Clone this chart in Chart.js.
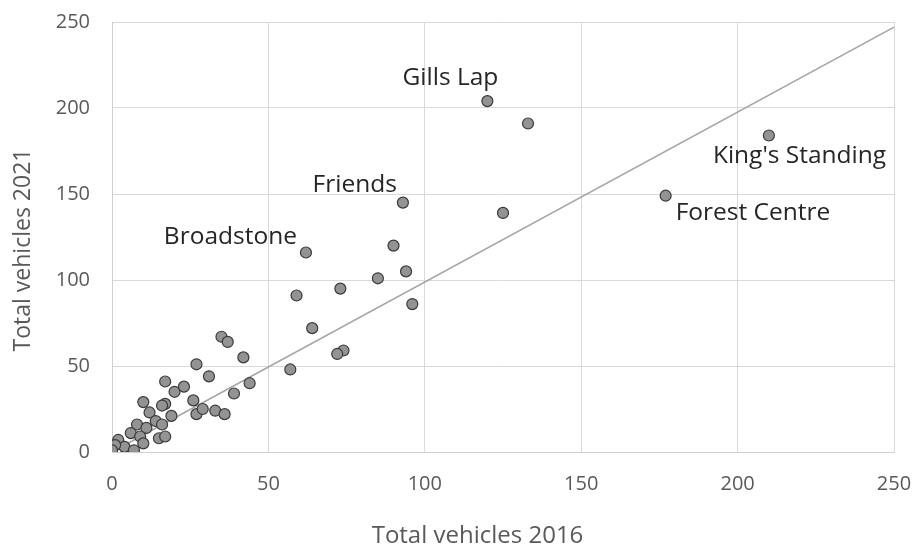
<!DOCTYPE html>
<html>
<head>
<meta charset="utf-8">
<script src="https://cdn.jsdelivr.net/npm/chart.js@4/dist/chart.umd.min.js"></script>
<style>
  html, body { margin: 0; padding: 0; background: #ffffff; }
  #wrap { width: 915px; height: 547px; position: relative; }
</style>
</head>
<body>
<div id="wrap"><canvas id="c" width="915" height="547"></canvas></div>
<script>
// ---- Data ----
const siteNames = ['Gills Lap', 'Friends', 'Broadstone', "King's Standing", 'Forest Centre'];
const vehicles2016 = [120, 93, 62, 210, 177, 133, 125, 90, 94, 85, 96, 73, 59, 64, 74, 72, 57, 35, 37, 42, 44, 31, 27, 39, 17, 20, 23, 10, 17, 16, 26, 27, 12, 19, 29, 33, 36, 14, 16, 8, 11, 6, 9, 15, 17, 2, 10, 4, 7, 0, 0, 1, 0];
const vehicles2021 = [204, 145, 116, 184, 149, 191, 139, 120, 105, 101, 86, 95, 91, 72, 59, 57, 48, 67, 64, 55, 40, 44, 51, 34, 41, 35, 38, 29, 28, 27, 30, 22, 23, 21, 25, 24, 22, 18, 16, 16, 14, 11, 9, 8, 9, 7, 5, 3, 1, 2, 0, 4, 1];
const refLineX = [0, 250];
const refLineY = [0, 247];
const axisTicks = [0, 50, 100, 150, 200, 250];
const xTitle = 'Total vehicles 2016';
const yTitle = 'Total vehicles 2021';

const points = vehicles2016.map((x, i) => ({ x: x, y: vehicles2021[i] }));
const refLine = refLineX.map((x, i) => ({ x: x, y: refLineY[i] }));

const FONT = '"Open Sans", "DejaVu Sans", sans-serif';

const labelOffsets = {
  'Gills Lap':       { dx: 11,  dy: -23, align: 'right' },
  'Friends':         { dx: -6,  dy: -18, align: 'right' },
  'Broadstone':      { dx: -9,  dy: -15, align: 'right' },
  "King's Standing": { dx: -56, dy: 20,  align: 'left' },
  'Forest Centre':   { dx: 10,  dy: 17,  align: 'left' }
};

const pointLabels = {
  id: 'pointLabels',
  afterDatasetsDraw(chart) {
    const meta = chart.getDatasetMeta(0);
    const ctx = chart.ctx;
    ctx.save();
    ctx.font = '24.5px ' + FONT;
    ctx.fillStyle = '#262626';
    ctx.textBaseline = 'middle';
    siteNames.forEach((name, i) => {
      const el = meta.data[i];
      const o = labelOffsets[name];
      ctx.textAlign = o.align;
      ctx.fillText(name, el.x + o.dx, el.y + o.dy);
    });
    ctx.restore();
  }
};

// Axis titles placed as in the reference (slightly off the plot-area centre)
const axisTitles = {
  id: 'axisTitles',
  afterDraw(chart) {
    const ctx = chart.ctx;
    const xs = chart.scales.x, ys = chart.scales.y;
    ctx.save();
    ctx.fillStyle = '#595959';
    ctx.textAlign = 'center';
    ctx.textBaseline = 'middle';
    ctx.font = '24px ' + FONT;
    ctx.fillText(xTitle, chart.width / 2 + 20, xs.bottom - 11);
    ctx.translate(ys.left + 23, (chart.chartArea.top + chart.chartArea.bottom) / 2 + 13);
    ctx.rotate(-Math.PI / 2);
    ctx.font = '23px ' + FONT;
    ctx.fillText(yTitle, 0, 0);
    ctx.restore();
  }
};

new Chart(document.getElementById('c'), {
  type: 'scatter',
  data: {
    datasets: [
      {
        label: 'Sites',
        data: points,
        pointRadius: 5.5,
        pointHoverRadius: 5.5,
        backgroundColor: '#939393',
        borderColor: '#3a3a3a',
        borderWidth: 1.2,
        order: 0
      },
      {
        type: 'line',
        label: 'Reference',
        data: refLine,
        borderColor: '#a6a6a6',
        borderWidth: 1.6,
        pointRadius: 0,
        fill: false,
        order: 1
      }
    ]
  },
  options: {
    responsive: false,
    animation: false,
    events: [],
    layout: { padding: { top: 22, right: 21, left: 0, bottom: 0 } },
    plugins: {
      legend: { display: false },
      tooltip: { enabled: false }
    },
    scales: {
      x: {
        type: 'linear',
        min: 0, max: 250,
        afterBuildTicks: (s) => { s.ticks = axisTicks.map(v => ({ value: v })); },
        afterFit: (s) => { s.height = 95; s.paddingLeft = 0; s.paddingRight = 0; },
        grid: { color: '#d9d9d9', drawTicks: false, lineWidth: 1 },
        border: { color: '#d0d0d0' },
        ticks: { padding: 20, color: '#595959', font: { family: FONT, size: 20 }, maxRotation: 0 },
        title: { display: false, text: xTitle }
      },
      y: {
        type: 'linear',
        min: 0, max: 250,
        afterBuildTicks: (s) => { s.ticks = axisTicks.map(v => ({ value: v })); },
        afterFit: (s) => { s.width = 112; s.paddingTop = 0; s.paddingBottom = 0; },
        grid: { color: '#d9d9d9', drawTicks: false, lineWidth: 1 },
        border: { color: '#d0d0d0' },
        ticks: { padding: 22, color: '#595959', font: { family: FONT, size: 20 } },
        title: { display: false, text: yTitle }
      }
    }
  },
  plugins: [pointLabels, axisTitles]
});
</script>
</body>
</html>
